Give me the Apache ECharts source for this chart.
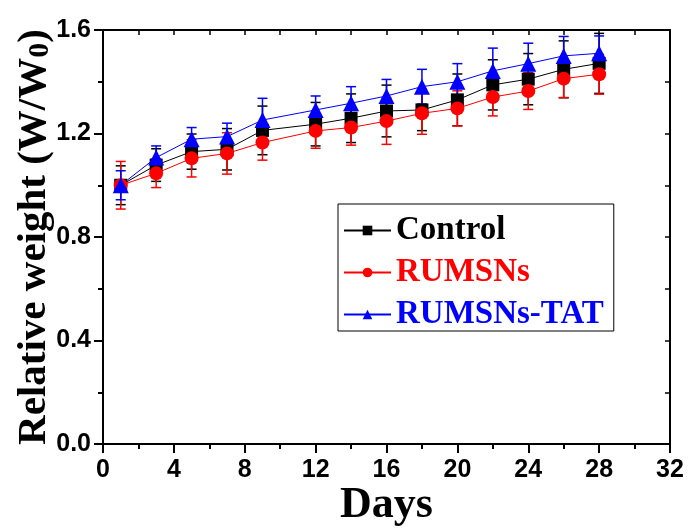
<!DOCTYPE html>
<html>
<head>
<meta charset="utf-8">
<script src="https://cdn.jsdelivr.net/npm/echarts@6/dist/echarts.min.js"></script>
<style>
html,body{margin:0;padding:0;background:#fff;}
#chart{width:690px;height:532px;}
</style>
</head>
<body>
<div id="chart"></div>
<script>
var days = [1, 3, 5, 7, 9, 12, 14, 16, 18, 20, 22, 24, 26, 28];
var control = [1.00, 1.078, 1.130, 1.139, 1.212, 1.236, 1.259, 1.287, 1.291, 1.330, 1.388, 1.410, 1.448, 1.471];
var controlErr = [0.075, 0.063, 0.068, 0.080, 0.094, 0.084, 0.094, 0.100, 0.080, 0.100, 0.097, 0.099, 0.110, 0.116];
var rumsns = [1.00, 1.046, 1.104, 1.123, 1.165, 1.210, 1.223, 1.248, 1.278, 1.297, 1.341, 1.364, 1.412, 1.429];
var rumsnsErr = [0.092, 0.055, 0.072, 0.080, 0.068, 0.067, 0.068, 0.090, 0.081, 0.068, 0.073, 0.071, 0.073, 0.077];
var tat = [1.00, 1.107, 1.178, 1.188, 1.252, 1.291, 1.317, 1.345, 1.381, 1.400, 1.442, 1.470, 1.500, 1.510];
var tatErr = [0.056, 0.045, 0.045, 0.052, 0.084, 0.054, 0.064, 0.064, 0.067, 0.070, 0.088, 0.079, 0.075, 0.067];
var seriesNames = ['Control', 'RUMSNs', 'RUMSNs-TAT'];
var seriesColors = ['#000000', '#ff0000', '#0000ff'];
var seriesSymbols = ['rect', 'circle', 'triangle'];
var symbolSizes = [13, 14, 16];
var xTicks = [0, 4, 8, 12, 16, 20, 24, 28, 32];
var yTicks = [0.0, 0.4, 0.8, 1.2, 1.6];

var chart = echarts.init(document.getElementById('chart'));
var means = [control, rumsns, tat];
var errs = [controlErr, rumsnsErr, tatErr];

function pairs(vals) {
  return days.map(function (d, i) { return [d, vals[i]]; });
}
function errData(vals, e) {
  return days.map(function (d, i) { return [d, vals[i] - e[i], vals[i] + e[i]]; });
}
function errRender(color) {
  return function (params, api) {
    var x = api.value(0);
    var lo = api.coord([x, api.value(1)]);
    var hi = api.coord([x, api.value(2)]);
    var w = 5;
    var st = { stroke: color, lineWidth: 1.5 };
    return {
      type: 'group',
      children: [
        { type: 'line', shape: { x1: lo[0], y1: lo[1], x2: hi[0], y2: hi[1] }, style: st },
        { type: 'line', shape: { x1: lo[0] - w, y1: lo[1], x2: lo[0] + w, y2: lo[1] }, style: st },
        { type: 'line', shape: { x1: hi[0] - w, y1: hi[1], x2: hi[0] + w, y2: hi[1] }, style: st }
      ]
    };
  };
}

var series = [];
for (var k = 0; k < 3; k++) {
  series.push({
    name: seriesNames[k] + ' err',
    type: 'custom',
    renderItem: errRender(seriesColors[k]),
    data: errData(means[k], errs[k]),
    encode: { x: 0, y: [1, 2] },
    z: 1,
    silent: true
  });
}
for (var k2 = 0; k2 < 3; k2++) {
  series.push({
    name: seriesNames[k2],
    type: 'line',
    data: pairs(means[k2]),
    symbol: seriesSymbols[k2],
    symbolSize: symbolSizes[k2],
    color: seriesColors[k2],
    lineStyle: { width: 1, color: seriesColors[k2] },
    itemStyle: { color: seriesColors[k2] },
    z: 3,
    animation: false
  });
}

var labelFont = { fontFamily: 'Liberation Sans, Arial, sans-serif', fontWeight: 'bold', fontSize: 25, color: '#000' };

chart.setOption({
  animation: false,
  backgroundColor: '#fff',
  grid: { left: 103, right: 20, top: 30, bottom: 88, containLabel: false, outerBoundsMode: 'none' },
  legend: {
    orient: 'vertical',
    left: 338,
    top: 204,
    width: 272,
    data: seriesNames.map(function (n, i) {
      return { name: n, textStyle: { color: seriesColors[i] } };
    }),
    borderColor: '#000',
    borderWidth: 1,
    padding: [10, 10, 0, 5],
    itemWidth: 47,
    itemHeight: 12,
    itemGap: 9,
    textStyle: { fontFamily: 'Liberation Serif, Times New Roman, serif', fontWeight: 'bold', fontSize: 33, lineHeight: 32 },
    selectedMode: false
  },
  xAxis: [{
    type: 'value',
    min: 0, max: 32, interval: 4,
    name: 'Days',
    nameLocation: 'middle',
    nameGap: 40,
    nameMoveOverlap: false,
    nameTextStyle: { fontFamily: 'Liberation Serif, Times New Roman, serif', fontWeight: 'bold', fontSize: 44, color: '#000' },
    axisLine: { onZero: false, lineStyle: { color: '#000', width: 2 } },
    axisTick: { inside: false, length: 9, lineStyle: { color: '#000', width: 2 } },
    minorTick: { show: true, splitNumber: 2, length: 5, lineStyle: { color: '#000', width: 2 } },
    axisLabel: Object.assign({ margin: 14, formatter: function (v) { return String(v); } }, labelFont),
    splitLine: { show: false }
  }, {
    type: 'value',
    position: 'top',
    min: 0, max: 32, interval: 4,
    axisLine: { onZero: false, lineStyle: { color: '#000', width: 2 } },
    axisTick: { inside: true, length: 5, lineStyle: { color: '#000', width: 1.5 } },
    minorTick: { show: true, splitNumber: 2, length: 5, lineStyle: { color: '#000', width: 1.5 } },
    axisLabel: { show: false },
    splitLine: { show: false }
  }],
  yAxis: [{
    type: 'value',
    min: 0, max: 1.6, interval: 0.4,
    name: '{t|Relative weight (W/W}{s|0}{t|)}',
    nameLocation: 'middle',
    nameGap: 48,
    nameMoveOverlap: false,
    nameRotate: 90,
    nameTextStyle: {
      rich: {
        t: { fontFamily: 'Liberation Serif, Times New Roman, serif', fontWeight: 'bold', fontSize: 41, color: '#000' },
        s: { fontFamily: 'Liberation Serif, Times New Roman, serif', fontWeight: 'bold', fontSize: 30, color: '#000', verticalAlign: 'bottom', padding: [12, 0, 0, 0] }
      }
    },
    axisLine: { onZero: false, lineStyle: { color: '#000', width: 2 } },
    axisTick: { inside: false, length: 9, lineStyle: { color: '#000', width: 2 } },
    minorTick: { show: true, splitNumber: 2, length: 5, lineStyle: { color: '#000', width: 2 } },
    axisLabel: Object.assign({ margin: 12, formatter: function (v) { return v.toFixed(1); } }, labelFont),
    splitLine: { show: false }
  }, {
    type: 'value',
    position: 'right',
    min: 0, max: 1.6, interval: 0.4,
    axisLine: { onZero: false, lineStyle: { color: '#000', width: 2 } },
    axisTick: { inside: true, length: 5, lineStyle: { color: '#000', width: 1.5 } },
    minorTick: { show: true, splitNumber: 2, length: 5, lineStyle: { color: '#000', width: 1.5 } },
    axisLabel: { show: false },
    splitLine: { show: false }
  }],
  series: series
});
</script>
</body>
</html>
